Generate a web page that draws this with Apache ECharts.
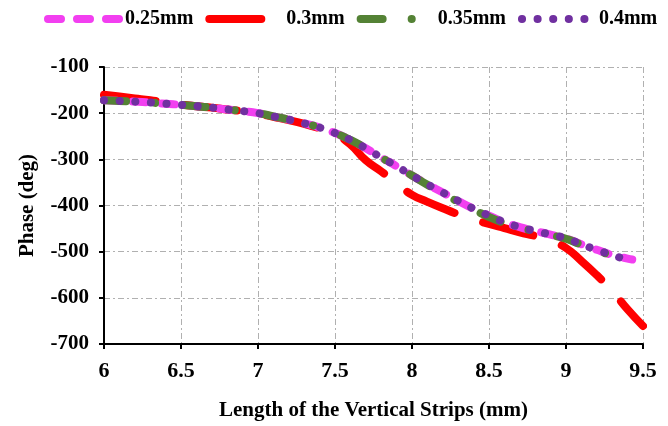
<!DOCTYPE html>
<html>
<head>
<meta charset="utf-8">
<script src="https://cdn.jsdelivr.net/npm/echarts@6/dist/echarts.min.js"></script>
<style>
html,body{margin:0;padding:0;background:#fff;}
#chart{width:668px;height:426px;}
</style>
</head>
<body>
<div id="chart"></div>
<script>
// Data
const seriesNames = ['0.25mm', '0.3mm', '0.35mm', '0.4mm'];
const xCommon = [6.0,6.1,6.2,6.3,6.4,6.5,6.6,6.7,6.8,6.9,7.0,7.1,7.2,7.3,7.4,7.5,7.6,7.7,7.8,7.9,8.0,8.1,8.2,8.3,8.4,8.5,8.6,8.7,8.8,8.9,9.0,9.1,9.2,9.3,9.4,9.43];
const xRed = [6.0,6.1,6.2,6.3,6.4,6.5,6.6,6.7,6.8,6.9,7.0,7.1,7.2,7.3,7.4,7.5,7.6,7.7,7.8,7.9,8.0,8.1,8.2,8.3,8.4,8.5,8.6,8.7,8.8,8.9,9.0,9.1,9.2,9.3,9.4,9.5];
const phase025 = [-172,-173.5,-175,-177,-179.5,-182,-185,-188,-192,-195.5,-200,-207,-214,-222,-231,-243,-258,-276,-296,-315,-335,-354,-372,-390,-407,-422,-436,-447,-455,-463,-471,-484,-496,-507,-515,-517];
const phase03 = [-160,-164,-168,-172,-177,-181,-185,-188,-192,-196,-201,-208,-215,-223,-233,-245,-268,-302,-326,-352,-377,-392,-406,-419,-430,-440,-449,-458,-466,-476,-492,-520,-551,-585,-625,-661];
const phase035 = [-172,-173.5,-175,-177,-179.5,-182,-185,-188,-192,-195.5,-200,-207,-214,-222,-231,-243,-258,-276,-296,-315,-335,-355,-374,-392,-409,-425,-438,-448,-456,-464,-472,-485,-497,-508,-515,-516];
const phase04 = [-172,-173.5,-175,-177,-179.5,-182,-185,-188,-192,-195.5,-200,-207,-214,-222,-231,-243,-258,-276,-296,-315,-335,-354,-372,-390,-407,-422,-436,-447,-455,-463,-471,-484,-496,-507,-519,-524];
const xTicks = [6, 6.5, 7, 7.5, 8, 8.5, 9, 9.5];
const yTicks = [-700, -600, -500, -400, -300, -200, -100];

const colors = ['#f23ff0', '#ff0000', '#548235', '#7030a0'];
const dashes = [[13, 16], [52, 30], [22, 29, 0.1, 29], [0.1, 15.5]];
const FONT = 'Liberation Serif';

function pairs(xs, ys) { return xs.map((x, i) => [x, ys[i]]); }
const dataSets = [pairs(xCommon, phase025), pairs(xRed, phase03), pairs(xCommon, phase035), pairs(xCommon, phase04)];
const zOrder = [2, 1, 3, 4];

const chart = echarts.init(document.getElementById('chart'), null, {renderer: 'canvas'});
chart.setOption({
  animation: false,
  backgroundColor: '#fff',
  legend: {
    left: 44, top: 9, width: 640, padding: 0,
    itemWidth: 72, itemHeight: 16, itemGap: 12,
    textStyle: {fontFamily: FONT, fontWeight: 'bold', fontSize: 20, color: '#000'},
    data: seriesNames.map((n, i) => ({
      name: n,
      itemStyle: {opacity: 0},
      lineStyle: {color: colors[i], width: 8, type: dashes[i], cap: 'round'}
    }))
  },
  grid: {left: 104, right: 25, top: 67, bottom: 78},
  xAxis: {
    type: 'value', min: 6, max: 9.5, interval: 0.5,
    name: 'Length of the Vertical Strips (mm)',
    nameLocation: 'middle', nameGap: 56,
    nameTextStyle: {fontFamily: FONT, fontWeight: 'bold', fontSize: 21, color: '#000'},
    axisLine: {show: true, onZero: false, lineStyle: {color: '#000', width: 2}},
    axisTick: {show: true, inside: false, length: 5, lineStyle: {color: '#000', width: 2}},
    axisLabel: {fontFamily: FONT, fontWeight: 'bold', fontSize: 22, color: '#000', margin: 16,
      formatter: v => xTicks.indexOf(v) >= 0 ? String(v) : ''},
    splitLine: {show: true, lineStyle: {color: '#b0b0b0', width: 1, type: [6, 3, 2, 3]}}
  },
  yAxis: {
    type: 'value', min: -700, max: -100, interval: 100,
    name: 'Phase (deg)',
    nameLocation: 'middle', nameGap: 66, nameRotate: 90,
    nameTextStyle: {fontFamily: FONT, fontWeight: 'bold', fontSize: 21, color: '#000'},
    axisLine: {show: true, onZero: false, lineStyle: {color: '#000', width: 2}},
    axisTick: {show: true, inside: false, length: 5, lineStyle: {color: '#000', width: 2}},
    axisLabel: {fontFamily: FONT, fontWeight: 'bold', fontSize: 21, color: '#000', margin: 15,
      formatter: v => yTicks.indexOf(v) >= 0 ? String(v) : ''},
    splitLine: {show: true, lineStyle: {color: '#b0b0b0', width: 1, type: [6, 3, 2, 3]}}
  },
  series: seriesNames.map((n, i) => ({
    name: n,
    type: 'line',
    data: dataSets[i],
    symbol: 'none',
    smooth: true,
    z: zOrder[i],
    lineStyle: {color: colors[i], width: 8, type: dashes[i], cap: 'round', join: 'round'},
    itemStyle: {color: colors[i]}
  }))
});
</script>
</body>
</html>
